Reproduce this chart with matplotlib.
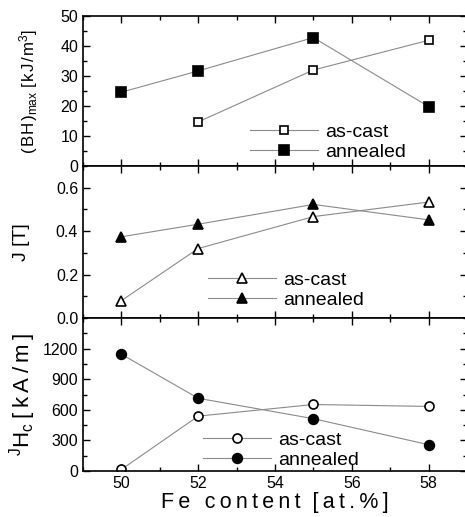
import matplotlib
matplotlib.use("Agg")
import matplotlib.pyplot as plt
from matplotlib.ticker import MultipleLocator

plt.rcParams['font.family'] = ['Liberation Sans', 'DejaVu Sans']
plt.rcParams['mathtext.fontset'] = 'custom'
plt.rcParams['mathtext.rm'] = 'Liberation Sans'
plt.rcParams['mathtext.it'] = 'Liberation Sans'
plt.rcParams['mathtext.default'] = 'regular'

fe = [50, 52, 55, 58]
fe_cast_bh = [52, 55, 58]
bh_cast = [14.7, 32.0, 41.9]
bh_ann = [24.6, 31.7, 42.8, 19.8]
j_cast = [0.08, 0.32, 0.467, 0.534]
j_ann = [0.374, 0.432, 0.523, 0.452]
hc_cast = [15, 538, 652, 633]
hc_ann = [1145, 713, 513, 258]

TS = '\u2009'  # thin space for letter spacing
HS = '\u200a'  # hair space


def spaced(s, sep=TS):
    return sep.join(s)


W, H = 465, 517
fig = plt.figure(figsize=(W / 100, H / 100), dpi=100)

left = 83 / W
width = 384 / W


def mk(top, bottom):
    return fig.add_axes([left, (H - bottom) / H, width, (bottom - top) / H])


ax1 = mk(16, 166)
ax2 = mk(166, 318)
ax3 = mk(318, 471)

line_kw = dict(color='#8a8a8a', lw=0.8, mec='black', mew=1.2)

ax1.plot(fe_cast_bh, bh_cast, marker='s', ms=5.5, mfc='white', label='as-cast', **line_kw)
ax1.plot(fe, bh_ann, marker='s', ms=6.5, mfc='black', label='annealed', **line_kw)
ax2.plot(fe, j_cast, marker='^', ms=6.5, mfc='white', label='as-cast', **line_kw)
ax2.plot(fe, j_ann, marker='^', ms=6.5, mfc='black', label='annealed', **line_kw)
ax3.plot(fe, hc_cast, marker='o', ms=6.5, mfc='white', label='as-cast', **line_kw)
ax3.plot(fe, hc_ann, marker='o', ms=7, mfc='black', label='annealed', **line_kw)

ax1.set_ylim(0, 50)
ax1.yaxis.set_major_locator(MultipleLocator(10))
ax1.yaxis.set_minor_locator(MultipleLocator(5))
ax2.set_ylim(0, 0.7)
ax2.set_yticks([0.0, 0.2, 0.4, 0.6])
ax2.set_yticklabels(['0.0', '0.2', '0.4', '0.6'])
ax2.yaxis.set_minor_locator(MultipleLocator(0.1))
ax3.set_ylim(0, 1500)
ax3.set_yticks([0, 300, 600, 900, 1200])
ax3.yaxis.set_minor_locator(MultipleLocator(150))

for ax in (ax1, ax2, ax3):
    ax.set_xlim(49, 59)
    ax.set_xticks([50, 52, 54, 56, 58])
    ax.xaxis.set_minor_locator(MultipleLocator(1))
    ax.tick_params(which='both', direction='in', top=True, right=True, labelsize=11.5, width=1.0)
    ax.tick_params(which='major', length=5)
    ax.tick_params(which='minor', length=3)
    for s in ax.spines.values():
        s.set_linewidth(1.2)

ax1.tick_params(labelbottom=False)
ax2.tick_params(labelbottom=False)

ax1.set_ylabel('(' + HS + 'B' + HS + 'H' + HS + ')$_{max}$' + ' ' + spaced('[kJ/m', HS) + '$^3$' + ']',
               fontsize=12.2)
ax2.set_ylabel('J [T]', fontsize=14)
ax3.set_ylabel(r'$^J$H$_c$' + TS + spaced('[kA/m]'), fontsize=16)
ax1.yaxis.set_label_coords((40 - 83) / 384, 0.5)
ax2.yaxis.set_label_coords((30 - 83) / 384, 0.5)
ax3.yaxis.set_label_coords((38 - 83) / 384, 0.5)

ax3.set_xlabel(spaced('Fe content') + '  ' + spaced('[at.%]'), fontsize=15.5, labelpad=1)

leg_kw = dict(frameon=False, fontsize=14, handlelength=3.5, borderpad=0,
              borderaxespad=0, labelspacing=0.15, handletextpad=0.35, loc='center left')
ax1.legend(bbox_to_anchor=((250 - 83) / 384, (166 - 142) / 150), **leg_kw)
ax2.legend(bbox_to_anchor=((208 - 83) / 384, (318 - 290) / 152), **leg_kw)
ax3.legend(bbox_to_anchor=((203 - 83) / 384, (471 - 450) / 153), **leg_kw)

fig.savefig('out.png', dpi=100)
